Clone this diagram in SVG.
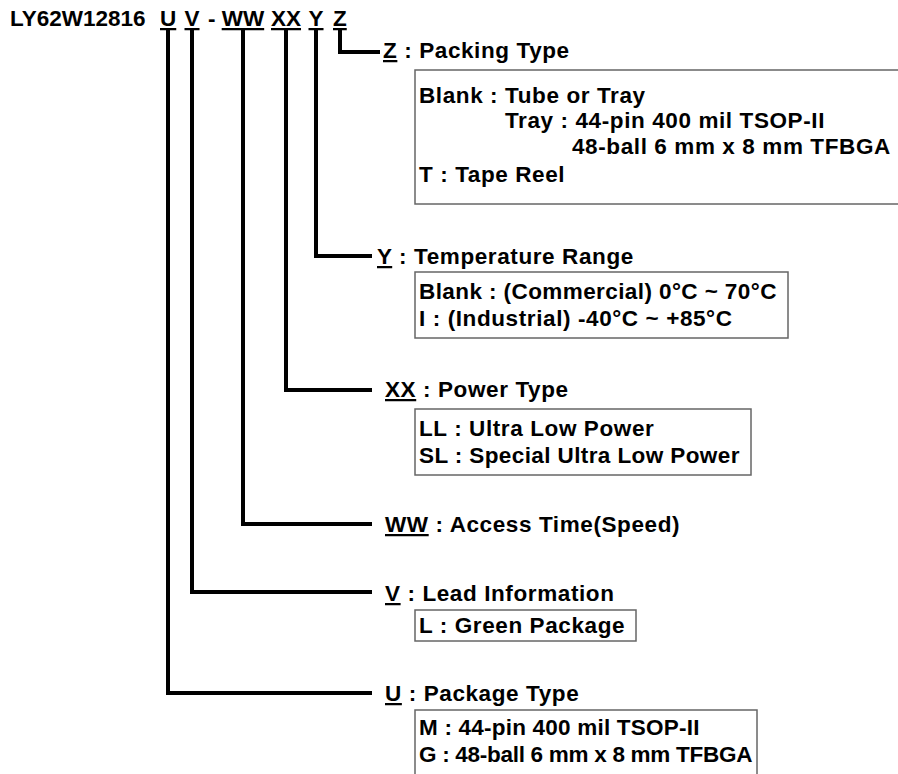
<svg xmlns="http://www.w3.org/2000/svg" width="898" height="774" viewBox="0 0 898 774">
<style>
text{font-family:"Liberation Sans",Arial,sans-serif;font-weight:bold;font-size:22.5px;letter-spacing:0.6px;fill:#000}
#title text{letter-spacing:0}
.u{text-decoration:underline}
.box{fill:#fff;stroke:#666;stroke-width:1.5}
.con{fill:none;stroke:#000;stroke-width:4}
</style>
<rect width="898" height="774" fill="#fff"/>
<g id="title"><text y="26"><tspan x="10">LY62W12816</tspan><tspan x="160" class="u">U</tspan><tspan x="184.5" class="u">V</tspan><tspan x="208">-</tspan><tspan x="221.7" class="u">WW</tspan><tspan x="271" class="u">XX</tspan><tspan x="308.5" class="u">Y</tspan><tspan x="333" class="u">Z</tspan></text></g>
<g id="connectors">
<path class="con" d="M168 29V693H372"/>
<path class="con" d="M192 29V592H372"/>
<path class="con" d="M243 29V524H372"/>
<path class="con" d="M286 29V390H372"/>
<path class="con" d="M316 29V256H372"/>
<path class="con" d="M340 29V52H380"/>
</g>
<g id="z">
<text x="383" y="58"><tspan class="u">Z</tspan> : Packing Type</text>
<rect class="box" x="415" y="70" width="500" height="134"/>
<text x="419" y="103">Blank : Tube or Tray</text>
<text x="505" y="128">Tray : 44-pin 400 mil TSOP-II</text>
<text x="572" y="154">48-ball 6 mm x 8 mm TFBGA</text>
<text x="419" y="182">T : Tape Reel</text>
</g>
<g id="y">
<text x="377" y="264"><tspan class="u">Y</tspan> : Temperature Range</text>
<rect class="box" x="415" y="272" width="373" height="66"/>
<text x="419" y="299" textLength="358">Blank : (Commercial) 0°C ~ 70°C</text>
<text x="419" y="326">I : (Industrial) -40°C ~ +85°C</text>
</g>
<g id="xx">
<text x="385" y="397"><tspan class="u">XX</tspan> : Power Type</text>
<rect class="box" x="415" y="409" width="336" height="66"/>
<text x="419" y="436">LL : Ultra Low Power</text>
<text x="419" y="463" textLength="321">SL : Special Ultra Low Power</text>
</g>
<g id="ww">
<text x="385" y="532"><tspan class="u">WW</tspan> : Access Time(Speed)</text>
</g>
<g id="v">
<text x="385" y="601"><tspan class="u">V</tspan> : Lead Information</text>
<rect class="box" x="415" y="610" width="221" height="31"/>
<text x="419" y="633">L : Green Package</text>
</g>
<g id="u">
<text x="385" y="701"><tspan class="u">U</tspan> : Package Type</text>
<rect class="box" x="415" y="710" width="342" height="80"/>
<text x="419" y="735" textLength="281">M : 44-pin 400 mil TSOP-II</text>
<text x="419" y="762" textLength="334">G : 48-ball 6 mm x 8 mm TFBGA</text>
</g>
</svg>
